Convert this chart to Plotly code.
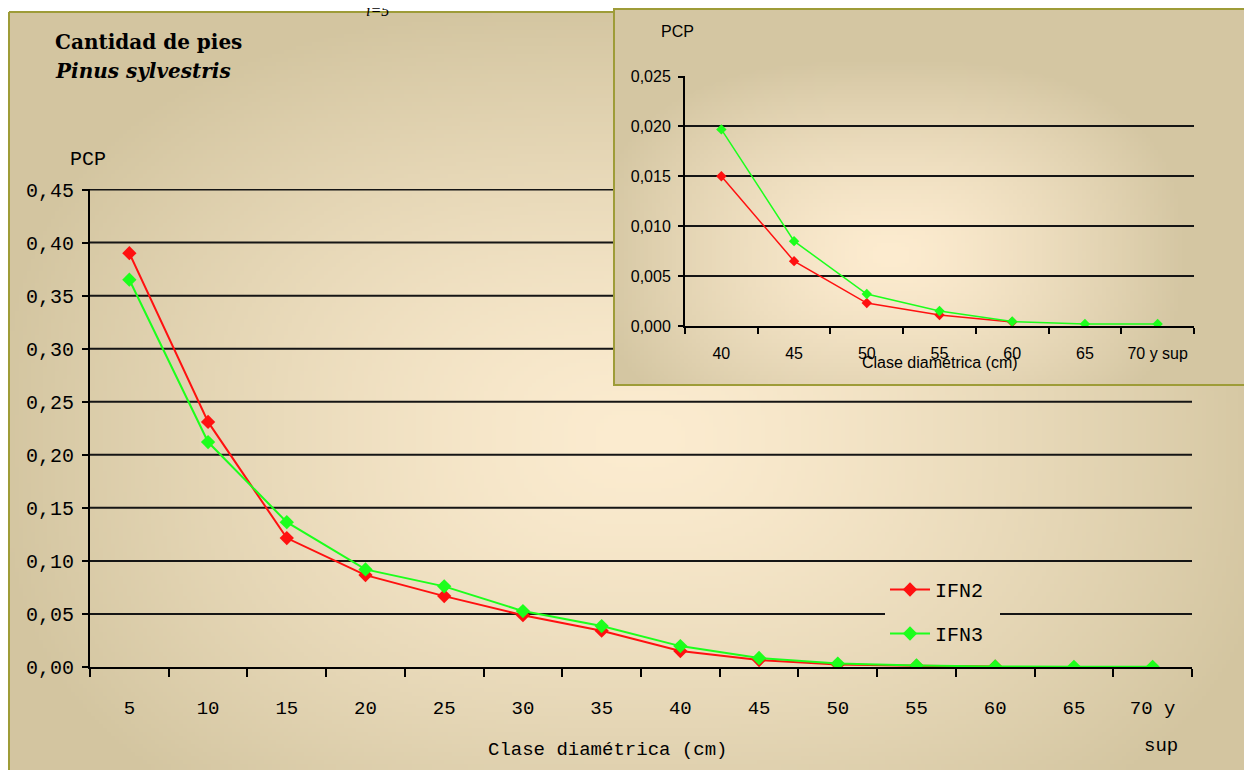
import base64
import struct
import zlib
import numpy as np
import plotly.graph_objects as go

# the page keeps the default 8px body margin, so the figure is 16px shorter
# than the 778px window and the page stays exactly window-sized
W, H = 1252, 762
OFF = 8  # body margin

# ---------------- data ----------------
categories = ["5", "10", "15", "20", "25", "30", "35", "40", "45", "50", "55", "60", "65", "70 y sup"]
tick_labels = ["5", "10", "15", "20", "25", "30", "35", "40", "45", "50", "55", "60", "65", "70 y"]
ifn2 = [0.390, 0.231, 0.1215, 0.0866, 0.0668, 0.0488, 0.0342, 0.0150, 0.0065, 0.0023, 0.0011, 0.0004, None, None]
ifn3 = [0.365, 0.212, 0.1365, 0.0920, 0.0760, 0.0527, 0.0386, 0.0197, 0.0085, 0.0032, 0.0015, 0.00045, 0.0002, 0.0002]
inset_start = 7
inset_tick_labels = ["40", "45", "50", "55", "60", "65", "70 y sup"]
series_names = ["IFN2", "IFN3"]
y_ticks_main = [0.05, 0.10, 0.15, 0.20, 0.25, 0.30, 0.35, 0.40, 0.45]

RED = "#ff1010"
GREEN = "#1cff1c"
OLIVE = "#9e9c38"
MONO = "Liberation Mono, Courier New, monospace"
SERIF = "DejaVu Serif, Liberation Serif, serif"
NARROW = "Liberation Sans Narrow, Arial Narrow, Liberation Sans, sans-serif"


def px(x):
    """page x (pixels) -> paper fraction"""
    return (x - OFF) / W


def py(y):
    """page y (pixels) -> paper fraction"""
    return 1 - (y - OFF) / H


def png_uri(arr):
    h, w, _ = arr.shape
    raw = b"".join(b"\x00" + arr[i].tobytes() for i in range(h))

    def chunk(t, d):
        return struct.pack(">I", len(d)) + t + d + struct.pack(">I", zlib.crc32(t + d) & 0xFFFFFFFF)

    png = (b"\x89PNG\r\n\x1a\n"
           + chunk(b"IHDR", struct.pack(">IIBBBBB", w, h, 8, 2, 0, 0, 0))
           + chunk(b"IDAT", zlib.compress(raw, 9))
           + chunk(b"IEND", b""))
    return "data:image/png;base64," + base64.b64encode(png).decode()


def gradient(x0, y0, x1, y1, cx, cy, hx, hy, c_in, c_out, p=3.0, g=1.4):
    w = int((x1 - x0) / 4)
    h = int((y1 - y0) / 4)
    xs = np.linspace(x0, x1, w)
    ys = np.linspace(y0, y1, h)
    X, Y = np.meshgrid(xs, ys)
    t = ((np.abs(X - cx) / hx) ** p + (np.abs(Y - cy) / hy) ** p) ** (1 / p)
    t = np.clip(t, 0, 1) ** g
    ci = np.array(c_in, float)
    co = np.array(c_out, float)
    img = ci[None, None, :] * (1 - t[..., None]) + co[None, None, :] * t[..., None]
    return png_uri(np.clip(img, 0, 255).astype(np.uint8))


PAGE_R, PAGE_B = OFF + W, OFF + H
main_bg = gradient(9, 12, PAGE_R, PAGE_B, 640, 440, 650, 440, (252, 236, 208), (211, 197, 160), p=2.6, g=1.4)
inset_bg = gradient(614, 8, PAGE_R, 385, 890, 255, 300, 200, (253, 236, 208), (212, 198, 162), p=2.6, g=1.4)

fig = go.Figure()

# main traces
fig.add_trace(go.Scatter(x=categories, y=ifn2, name=series_names[0], mode="lines+markers",
                         line=dict(color=RED, width=2), marker=dict(symbol="diamond", size=11, color=RED),
                         legendgroup="a", xaxis="x", yaxis="y"))
fig.add_trace(go.Scatter(x=categories, y=ifn3, name=series_names[1], mode="lines+markers",
                         line=dict(color=GREEN, width=2), marker=dict(symbol="diamond", size=11, color=GREEN),
                         legendgroup="b", xaxis="x", yaxis="y"))

# inset traces
inset_x = inset_tick_labels
fig.add_trace(go.Scatter(x=inset_x, y=ifn2[inset_start:], mode="lines+markers", showlegend=False,
                         line=dict(color=RED, width=1.5), marker=dict(symbol="diamond", size=8, color=RED),
                         xaxis="x2", yaxis="y2"))
fig.add_trace(go.Scatter(x=inset_x, y=ifn3[inset_start:], mode="lines+markers", showlegend=False,
                         line=dict(color=GREEN, width=1.5), marker=dict(symbol="diamond", size=8, color=GREEN),
                         xaxis="x2", yaxis="y2"))

shapes = []
# main gridlines (partly hidden behind the inset panel / legend)
for v in y_ticks_main:
    ypix = 667 - v / 0.45 * 478
    if ypix < 386:
        segs = [(90, 614)]
    elif abs(v - 0.05) < 1e-9:
        segs = [(90, 885), (1000, 1192)]
    else:
        segs = [(90, 1192)]
    for a, b in segs:
        shapes.append(dict(type="line", xref="paper", yref="y", x0=px(a), x1=px(b), y0=v, y1=v,
                           line=dict(color="#151515", width=2), layer="below"))

# panel borders
shapes.append(dict(type="line", xref="paper", yref="paper", x0=px(9), x1=px(9), y0=py(12), y1=py(PAGE_B + 5),
                   line=dict(color=OLIVE, width=2), layer="below"))
shapes.append(dict(type="line", xref="paper", yref="paper", x0=px(9), x1=px(614), y0=py(12), y1=py(12),
                   line=dict(color=OLIVE, width=2), layer="below"))
shapes.append(dict(type="rect", xref="paper", yref="paper", x0=px(614), x1=px(PAGE_R + 10), y0=py(9), y1=py(385),
                   line=dict(color=OLIVE, width=2), fillcolor="rgba(0,0,0,0)", layer="below"))

images = [
    dict(source=main_bg, xref="paper", yref="paper", x=px(9), y=py(12), sizex=(PAGE_R - 9) / W,
         sizey=(PAGE_B - 12) / H, xanchor="left", yanchor="top", sizing="stretch", layer="below"),
    dict(source=inset_bg, xref="paper", yref="paper", x=px(614), y=py(8), sizex=(PAGE_R - 614) / W,
         sizey=(385 - 8) / H, xanchor="left", yanchor="top", sizing="stretch", layer="below"),
]

annotations = [
    dict(text="<b>Cantidad de pies</b>", x=px(53), y=py(42), xref="paper", yref="paper", xanchor="left",
         yanchor="middle", showarrow=False, font=dict(family=SERIF, size=20, color="black")),
    dict(text="<b><i>Pinus sylvestris</i></b>", x=px(53), y=py(71), xref="paper", yref="paper", xanchor="left",
         yanchor="middle", showarrow=False, font=dict(family=SERIF, size=20, color="black")),
    dict(text="PCP", x=px(88), y=py(160), xref="paper", yref="paper", xanchor="center", yanchor="middle",
         showarrow=False, font=dict(family=MONO, size=20, color="black")),
    dict(text="Clase diamétrica (cm)", x=px(607), y=py(750), xref="paper", yref="paper", xanchor="center",
         yanchor="middle", showarrow=False, font=dict(family=MONO, size=19, color="black")),
    dict(text="sup", x=categories[-1], y=py(746), xref="x", yref="paper", xanchor="center", yanchor="middle",
         showarrow=False, font=dict(family=MONO, size=19, color="black"), xshift=8),
    dict(text="PCP", x=px(677), y=py(31), xref="paper", yref="paper", xanchor="center", yanchor="middle",
         showarrow=False, font=dict(family=NARROW, size=16, color="black")),
    dict(text="Clase diamétrica (cm)", x=px(940), y=py(362), xref="paper", yref="paper", xanchor="center",
         yanchor="middle", showarrow=False, font=dict(family=NARROW, size=16, color="black")),
    dict(text="<i>i=5</i>", x=px(377), y=py(21), xref="paper", yref="paper", xanchor="center", yanchor="bottom",
         showarrow=False, font=dict(family="Liberation Serif, serif", size=16, color="black")),
]

AX = dict(automargin=False)

fig.update_layout(
    width=W, height=H,
    autosize=False,
    margin=dict(l=0, r=0, t=0, b=0, pad=0, autoexpand=False),
    paper_bgcolor="white",
    plot_bgcolor="rgba(0,0,0,0)",
    separators=",.",
    showlegend=True,
    legend=dict(x=px(885), y=py(570), xanchor="left", yanchor="top", bgcolor="rgba(0,0,0,0)",
                font=dict(family=MONO, size=20, color="black"), traceorder="grouped", tracegroupgap=15,
                itemwidth=40),
    xaxis=dict(domain=[px(90), px(1192)], anchor="y", type="category", categoryorder="array",
               categoryarray=categories, range=[-0.5, len(categories) - 0.5],
               tickmode="array", tickvals=categories, ticktext=tick_labels,
               tickson="boundaries", ticks="outside", ticklen=8, tickwidth=1.5, tickcolor="black",
               showline=True, linecolor="black", linewidth=2, showgrid=False, zeroline=False,
               tickfont=dict(family=MONO, size=19, color="black"), ticklabelstandoff=22, **AX),
    yaxis=dict(domain=[py(667), py(189)], anchor="x", range=[0, 0.4505], tick0=0, dtick=0.05,
               tickformat=".2f", ticks="outside", ticklen=6, tickwidth=1.5, tickcolor="black",
               showline=True, linecolor="black", linewidth=2, showgrid=False, zeroline=False,
               tickfont=dict(family=MONO, size=20, color="black"), ticklabelstandoff=4, **AX),
    xaxis2=dict(domain=[px(685), px(1194)], anchor="y2", type="category", categoryorder="array",
                categoryarray=inset_tick_labels, range=[-0.5, len(inset_tick_labels) - 0.5],
                tickson="boundaries", ticks="outside", ticklen=6, tickwidth=1.5, tickcolor="black",
                showline=True, linecolor="black", linewidth=2, showgrid=False, zeroline=False,
                tickfont=dict(family=NARROW, size=16, color="black"), ticklabelstandoff=12, **AX),
    yaxis2=dict(domain=[py(326), py(76)], anchor="x2", range=[0, 0.02505], tick0=0, dtick=0.005,
                tickformat=".3f", ticks="outside", ticklen=5, tickwidth=1.5, tickcolor="black",
                showline=True, linecolor="black", linewidth=2, showgrid=True, gridcolor="#151515",
                gridwidth=2, zeroline=False,
                tickfont=dict(family=NARROW, size=16, color="black"), ticklabelstandoff=4, **AX),
    shapes=shapes,
    images=images,
    annotations=annotations,
)

fig.write_html("out.html", config={"displayModeBar": False})
